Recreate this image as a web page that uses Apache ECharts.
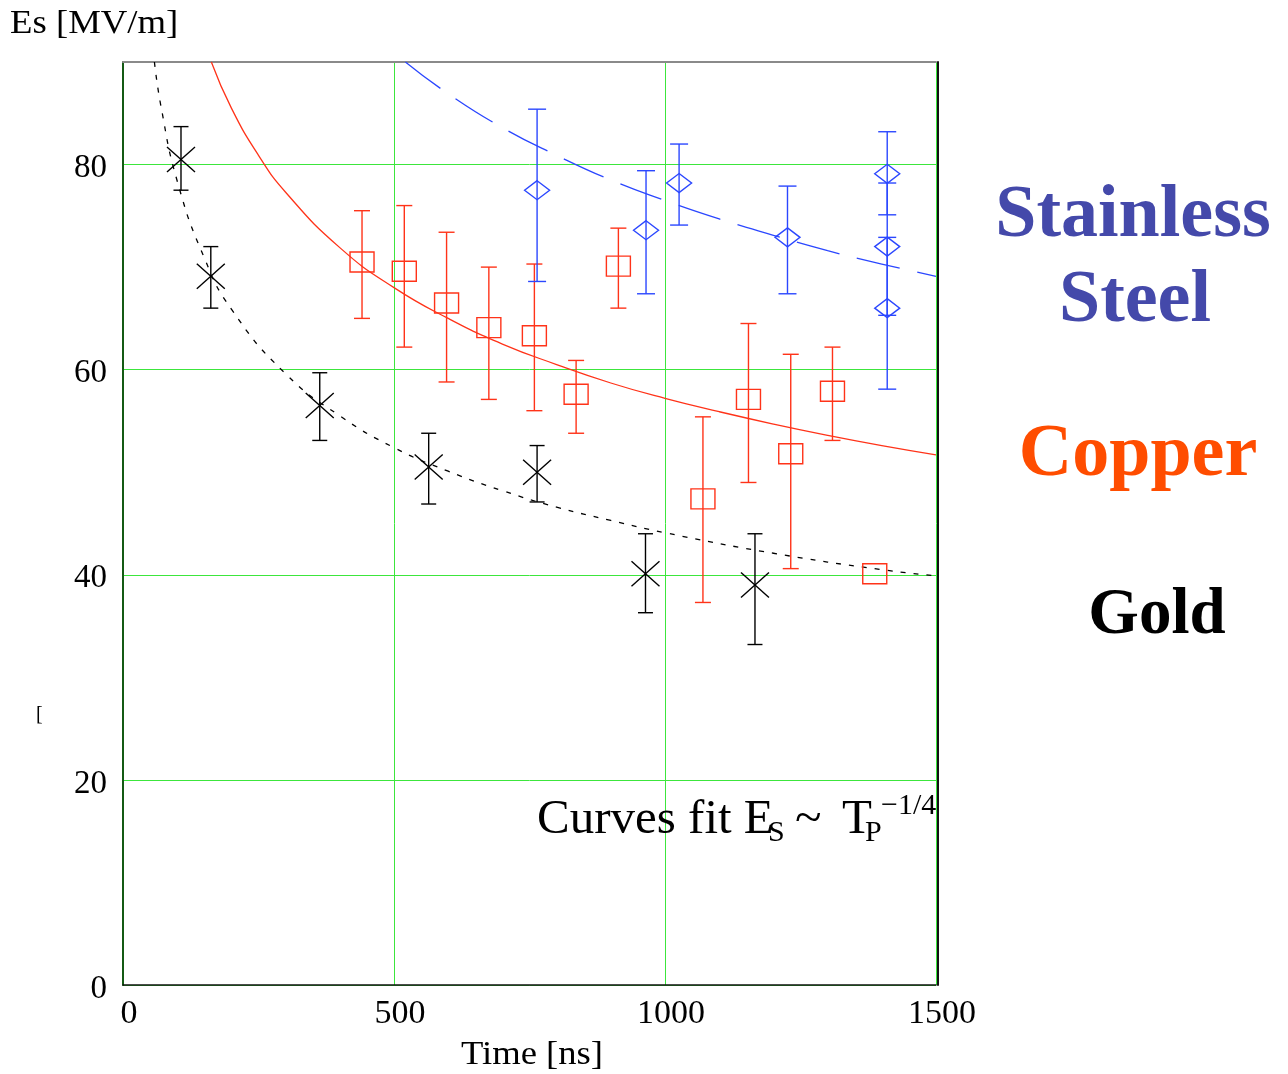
<!DOCTYPE html>
<html>
<head>
<meta charset="utf-8">
<script src="https://cdn.jsdelivr.net/npm/echarts@6/dist/echarts.min.js"></script>
<style>
html,body{margin:0;padding:0;background:#fff;}
#chart{width:1288px;height:1074px;}
</style>
</head>
<body>
<div id="chart"></div>
<script>
// ---- Data ----
const xTicks = [0, 500, 1000, 1500];
const yTicks = [0, 20, 40, 60, 80];

// Gold (black crosses)
const goldTime = [107, 162, 363, 564, 764, 964, 1166];
const goldEs   = [80.5, 69.1, 56.5, 50.5, 50.0, 40.1, 39.0];
const goldLow  = [77.5, 66.0, 53.1, 46.9, 47.1, 36.3, 33.2];
const goldHigh = [83.7, 72.0, 59.7, 53.8, 52.6, 44.0, 44.0];

// Copper (red squares)
const copperTime = [441, 519, 597, 675, 759, 836, 914, 1070, 1154, 1232, 1309, 1387];
const copperEs   = [70.5, 69.6, 66.5, 64.1, 63.3, 57.6, 70.1, 47.4, 57.1, 51.8, 57.9, 40.1];
const copperLow  = [65.0, 62.2, 58.8, 57.1, 56.0, 53.8, 66.0, 37.3, 49.0, 40.6, 53.1, 40.1];
const copperHigh = [75.5, 76.0, 73.4, 70.0, 70.3, 60.9, 73.8, 55.4, 64.5, 61.5, 62.2, 40.1];

// Stainless steel (blue diamonds)
const steelTime = [764, 965, 1026, 1226, 1410, 1410, 1410];
const steelEs   = [77.5, 73.6, 78.2, 72.9, 79.1, 72.0, 66.0];
const steelLow  = [68.6, 67.4, 74.1, 67.4, 75.1, 65.3, 58.1];
const steelHigh = [85.4, 79.4, 82.0, 77.9, 83.2, 78.2, 72.9];

// Fit curves
const goldFitT = [58, 70, 100, 150, 200, 300, 400, 500, 600, 700, 800, 900, 1000, 1200, 1400, 1500];
const goldFitE = [90.0, 85.7, 78.4, 70.9, 65.9, 59.6, 55.5, 52.4, 50.1, 48.2, 46.6, 45.3, 44.1, 42.1, 40.5, 39.9];
const copperFitT = [163, 200, 250, 300, 400, 500, 600, 700, 800, 900, 1000, 1100, 1200, 1300, 1400, 1500];
const copperFitE = [90.0, 85.5, 80.9, 77.3, 71.9, 68.0, 65.0, 62.5, 60.5, 58.7, 57.2, 55.9, 54.7, 53.6, 52.6, 51.7];
const steelFitT = [521, 600, 700, 800, 900, 1000, 1100, 1200, 1300, 1400, 1500];
const steelFitE = [90.0, 86.9, 83.6, 80.9, 78.5, 76.5, 74.7, 73.1, 71.6, 70.3, 69.1];

// ---- Build ----
const SERIF = "'Liberation Serif','DejaVu Serif',serif";
const zip2 = (a, b) => a.map((v, i) => [v, b[i]]);
const zip4 = (a, b, c, d) => a.map((v, i) => [v, b[i], c[i], d[i]]);

function errRender(shape, color, cap, mw, mh) {
  return function (params, api) {
    const x = api.value(0), y = api.value(1), lo = api.value(2), hi = api.value(3);
    const p = api.coord([x, y]);
    const pl = api.coord([x, lo]);
    const ph = api.coord([x, hi]);
    const st = { stroke: color, lineWidth: 1.4, fill: 'none' };
    const ch = [];
    if (hi > lo) {
      ch.push({ type: 'line', shape: { x1: pl[0], y1: pl[1], x2: ph[0], y2: ph[1] }, style: st });
      ch.push({ type: 'line', shape: { x1: pl[0] - cap / 2, y1: pl[1], x2: pl[0] + cap / 2, y2: pl[1] }, style: st });
      ch.push({ type: 'line', shape: { x1: ph[0] - cap / 2, y1: ph[1], x2: ph[0] + cap / 2, y2: ph[1] }, style: st });
    }
    if (shape === 'rect') {
      ch.push({ type: 'rect', shape: { x: p[0] - mw / 2, y: p[1] - mh / 2, width: mw, height: mh }, style: st });
    } else if (shape === 'diamond') {
      ch.push({ type: 'polygon', shape: { points: [[p[0], p[1] - mh / 2], [p[0] + mw / 2, p[1]], [p[0], p[1] + mh / 2], [p[0] - mw / 2, p[1]]] }, style: st });
    } else {
      ch.push({ type: 'line', shape: { x1: p[0] - mw / 2, y1: p[1] - mh / 2, x2: p[0] + mw / 2, y2: p[1] + mh / 2 }, style: st });
      ch.push({ type: 'line', shape: { x1: p[0] - mw / 2, y1: p[1] + mh / 2, x2: p[0] + mw / 2, y2: p[1] - mh / 2 }, style: st });
    }
    return { type: 'group', children: ch };
  };
}

function txt(text, x, y, font, fill, align, extra) {
  return Object.assign({
    type: 'text', x: x, y: y, z: 10,
    style: { text: text, font: font, fill: fill, align: align, verticalAlign: 'middle', textAlign: align, textVerticalAlign: 'middle' }
  }, extra || {});
}

const GREEN = '#3ce63c';
const BLUE = '#2b47ff';
const RED = '#ff3319';

const chart = echarts.init(document.getElementById('chart'), null, { renderer: 'canvas' });
chart.setOption({
  backgroundColor: '#ffffff',
  animation: false,
  grid: { left: 123, top: 62, width: 813, height: 923, outerBoundsMode: 'none', containLabel: false },
  xAxis: [
    {
      type: 'value', min: 0, max: 1500, interval: 500, position: 'bottom',
      axisLine: { show: true, lineStyle: { color: '#111', width: 1.5 } },
      axisTick: { show: false },
      axisLabel: {
        color: '#000', fontFamily: SERIF, fontSize: 34, margin: 12, padding: [0, 0, 0, 12],
        formatter: v => xTicks.includes(v) ? String(v) : ''
      },
      splitLine: { show: true, lineStyle: { color: GREEN, width: 1 } }
    },
    {
      type: 'value', min: 0, max: 1500, position: 'top',
      axisLine: { show: true, onZero: false, lineStyle: { color: '#8a8a8a', width: 2 } },
      axisTick: { show: false }, axisLabel: { show: false }, splitLine: { show: false }
    }
  ],
  yAxis: [
    {
      type: 'value', min: 0, max: 90, interval: 20, position: 'left',
      axisLine: { show: true, onZero: false, lineStyle: { color: '#145a14', width: 2 } },
      axisTick: { show: false },
      axisLabel: {
        color: '#000', fontFamily: SERIF, fontSize: 33, margin: 16,
        verticalAlign: 'top', lineHeight: 8,
        showMaxLabel: false,
        formatter: v => yTicks.includes(v) ? String(v) : ''
      },
      splitLine: { show: true, showMaxLine: false, lineStyle: { color: GREEN, width: 1 } }
    },
    {
      type: 'value', min: 0, max: 90, position: 'right', offset: 2,
      axisLine: { show: true, onZero: false, lineStyle: { color: '#111', width: 2 } },
      axisTick: { show: false }, axisLabel: { show: false }, splitLine: { show: false }
    }
  ],
  series: [
    {
      type: 'line', name: 'Gold fit', data: zip2(goldFitT, goldFitE), smooth: true, showSymbol: false,
      lineStyle: { color: '#000', width: 1.3, type: [5, 8] }, z: 3
    },
    {
      type: 'line', name: 'Copper fit', data: zip2(copperFitT, copperFitE), smooth: true, showSymbol: false,
      lineStyle: { color: RED, width: 1.3, type: 'solid' }, z: 3
    },
    {
      type: 'line', name: 'Steel fit', data: zip2(steelFitT, steelFitE), smooth: true, showSymbol: false,
      lineStyle: { color: BLUE, width: 1.3, type: [44, 18] }, z: 3
    },
    {
      type: 'custom', name: 'Gold', data: zip4(goldTime, goldEs, goldLow, goldHigh),
      renderItem: errRender('cross', '#000', 15, 28, 25), encode: { x: 0, y: 1 }, z: 4
    },
    {
      type: 'custom', name: 'Copper', data: zip4(copperTime, copperEs, copperLow, copperHigh),
      renderItem: errRender('rect', RED, 16, 24, 20), encode: { x: 0, y: 1 }, z: 4
    },
    {
      type: 'custom', name: 'Stainless Steel', data: zip4(steelTime, steelEs, steelLow, steelHigh),
      renderItem: errRender('diamond', BLUE, 18, 25, 19), encode: { x: 0, y: 1 }, z: 4
    }
  ],
  graphic: [
    txt('Es [MV/m]', 10, 24, '34px ' + SERIF, '#000', 'left', { scaleX: 1.08 }),
    txt('Time [ns]', 532, 1055, '33px ' + SERIF, '#000', 'center', { scaleX: 1.11 }),
    txt('[', 36, 715, '20px ' + SERIF, '#000', 'left'),
    // annotation
    txt('Curves fit E', 537, 820, '49px ' + SERIF, '#000', 'left'),
    txt('S', 768, 833, '30px ' + SERIF, '#000', 'left'),
    txt('~', 795, 820, '49px ' + SERIF, '#000', 'left'),
    txt('T', 842, 820, '49px ' + SERIF, '#000', 'left'),
    txt('P', 865, 833, '30px ' + SERIF, '#000', 'left'),
    txt('\u22121/4', 881, 806, '30px ' + SERIF, '#000', 'left'),
    // material labels
    txt('Stainless', 1133, 217, 'bold 74px ' + SERIF, '#4449aa', 'center'),
    txt('Steel', 1135, 302, 'bold 74px ' + SERIF, '#4449aa', 'center'),
    txt('Copper', 1138, 456, 'bold 74px ' + SERIF, '#ff4d00', 'center'),
    txt('Gold', 1157, 616, 'bold 65px ' + SERIF, '#000', 'center')
  ]
});
</script>
</body>
</html>
